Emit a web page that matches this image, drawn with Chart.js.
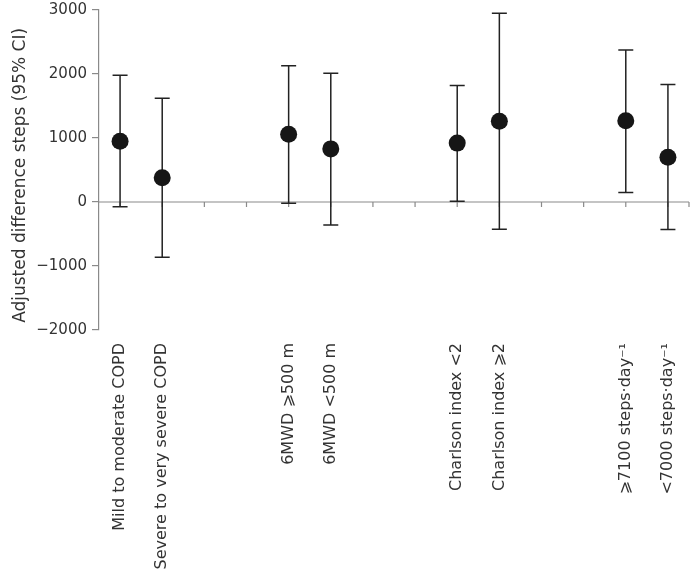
<!DOCTYPE html>
<html>
<head>
<meta charset="utf-8">
<script src="https://cdn.jsdelivr.net/npm/chart.js@4.4.1/dist/chart.umd.min.js"></script>
<style>
  body { margin: 0; background: #fff; }
</style>
</head>
<body>
<canvas id="chart" width="690" height="578"></canvas>
<script>
// subgroups, with empty slots between the groups
const labels = [
  "Mild to moderate COPD", "Severe to very severe COPD", "", "",
  "6MWD \u2A7E500 m", "6MWD <500 m", "", "",
  "Charlson index <2", "Charlson index \u2A7E2", "", "",
  "\u2A7E7100 steps\u00B7day\u207B\u00B9", "<7000 steps\u00B7day\u207B\u00B9"
];
const estimates = [950, 380, null, null, 1060, 830, null, null, 920, 1260, null, null, 1270, 700];
const lowerCI = [-75, -865, null, null, -20, -360, null, null, 10, -425, null, null, 150, -430];
const upperCI = [1980, 1620, null, null, 2130, 2010, null, null, 1820, 2950, null, null, 2375, 1835];
const yTicks = [-2000, -1000, 0, 1000, 2000, 3000];

const axisColor = "#8a8a8a";
const textColor = "#333";
const font = "DejaVu Sans";

// zero line with small tick marks at each category, plus the CI whiskers
const errorBars = {
  id: "errorBars",
  beforeDatasetsDraw(chart) {
    const { ctx, chartArea, scales } = chart;
    const x = scales.x, y = scales.y;
    const y0 = y.getPixelForValue(0);
    ctx.save();
    ctx.strokeStyle = axisColor;
    ctx.lineWidth = 1.2;
    ctx.beginPath();
    ctx.moveTo(chartArea.left, y0);
    ctx.lineTo(chartArea.right, y0);
    for (let i = 0; i < labels.length; i++) {
      const px = x.getPixelForValue(i);
      ctx.moveTo(px, y0);
      ctx.lineTo(px, y0 + 5);
    }
    ctx.moveTo(chartArea.right, y0);
    ctx.lineTo(chartArea.right, y0 + 5);
    ctx.stroke();

    ctx.strokeStyle = "#222";
    ctx.lineWidth = 1.5;
    for (let i = 0; i < labels.length; i++) {
      if (lowerCI[i] == null) continue;
      const px = x.getPixelForValue(i);
      const lo = y.getPixelForValue(lowerCI[i]);
      const hi = y.getPixelForValue(upperCI[i]);
      ctx.beginPath();
      ctx.moveTo(px, lo);
      ctx.lineTo(px, hi);
      ctx.moveTo(px - 7.5, lo);
      ctx.lineTo(px + 7.5, lo);
      ctx.moveTo(px - 7.5, hi);
      ctx.lineTo(px + 7.5, hi);
      ctx.stroke();
    }
    ctx.restore();
  }
};

new Chart(document.getElementById("chart"), {
  type: "line",
  data: {
    labels: labels,
    datasets: [{
      data: estimates,
      showLine: false,
      pointRadius: 8.5,
      pointBackgroundColor: "#161616",
      pointBorderWidth: 0,
    }],
  },
  plugins: [errorBars],
  options: {
    responsive: false,
    animation: false,
    layout: { autoPadding: false, padding: { top: 10, right: 1, left: 0, bottom: 0 } },
    plugins: {
      legend: { display: false },
      tooltip: { enabled: false },
    },
    scales: {
      x: {
        offset: true,
        grid: { display: false, drawTicks: false },
        border: { display: false },
        ticks: {
          autoSkip: false,
          minRotation: 90,
          maxRotation: 90,
          padding: 13,
          color: textColor,
          font: { family: font, size: 16 },
        },
        afterFit: (scale) => {
          scale.height = 248;
          scale.paddingLeft = 0;
          scale.paddingRight = 0;
        },
      },
      y: {
        min: -2000,
        max: 3000,
        afterBuildTicks: (scale) => { scale.ticks = yTicks.map((v) => ({ value: v })); },
        border: { display: true, color: axisColor, width: 1.2 },
        grid: { drawOnChartArea: false, drawTicks: true, tickLength: 7, color: axisColor, lineWidth: 1.2 },
        ticks: {
          padding: 5,
          color: textColor,
          font: { family: font, size: 15 },
          callback: (v) => String(v).replace("-", "\u2212"),
        },
        title: {
          display: true,
          text: "Adjusted difference steps (95% CI)  ",
          color: textColor,
          font: { family: font, size: 17 },
          padding: { top: 10, bottom: 6 },
        },
        afterFit: (scale) => {
          scale.width = 99;
          scale.paddingTop = 0;
          scale.paddingBottom = 0;
        },
      },
    },
  },
});
</script>
</body>
</html>
